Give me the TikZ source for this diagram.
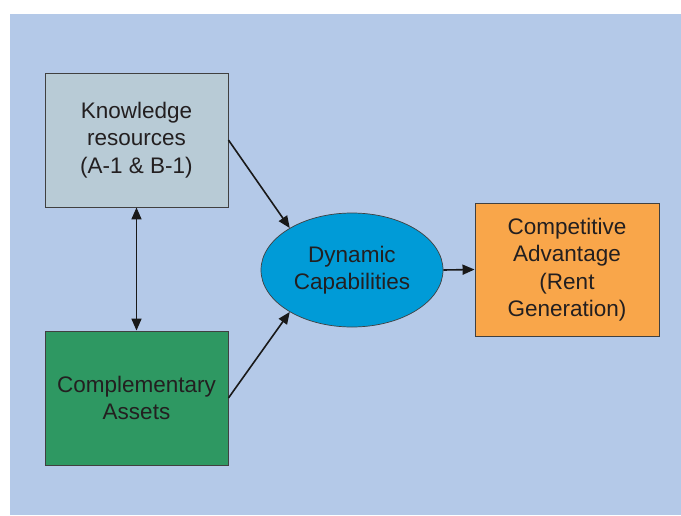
\documentclass[tikz,border=0pt]{standalone}
\usepackage{fontspec}
\setmainfont{Liberation Sans}
\usetikzlibrary{arrows.meta,shapes.geometric}

\definecolor{bgblue}{RGB}{180,201,232}
\definecolor{knowgray}{RGB}{184,203,214}
\definecolor{compgreen}{RGB}{46,152,98}
\definecolor{dynblue}{RGB}{0,155,215}
\definecolor{advorange}{RGB}{249,166,74}
\definecolor{textgray}{RGB}{35,31,32}

\tikzset{
    block/.style={draw=black!75, line width=0.9pt, minimum width=183pt, minimum height=134pt,
        inner sep=0pt, align=center, text=textgray, font=\fontsize{22.5}{27.5}\selectfont},
    conn/.style={line width=1.6pt, black!90, -{Triangle[length=12pt,width=10pt]}},
    biconn/.style={conn, {Triangle[length=12pt,width=10pt]}-{Triangle[length=12pt,width=10pt]}},
}

\begin{document}
\begin{tikzpicture}[x=1pt,y=-1pt]
            \useasboundingbox (0,0) rectangle (681,515);
            \fill [bgblue] (10,14) rectangle (681,515);

            \node [block, fill=knowgray]  (know) at (136.5,140) {Knowledge\\resources\\(A-1 \& B-1)};
            \node [block, fill=compgreen] (comp) at (136.5,398) {Complementary\\Assets};
            \node [block, fill=advorange, minimum width=184pt, minimum height=133pt] (adv) at (567,269.5)
                {Competitive\\Advantage\\(Rent\\Generation)};
            \node [block, ellipse, fill=dynblue, line width=0.7pt, minimum width=182pt, minimum height=114pt]
                (dyn) at (352,270) {Dynamic\\Capabilities};

            % connectors
            \draw [conn] (know.east) -- (dyn.146);
            \draw [conn] (comp.east) -- (dyn.214);
            \draw [biconn] (know.south) -- (comp.north);
            \draw [conn] (dyn.east) -- (adv.west);
        \end{tikzpicture}
\end{document}
